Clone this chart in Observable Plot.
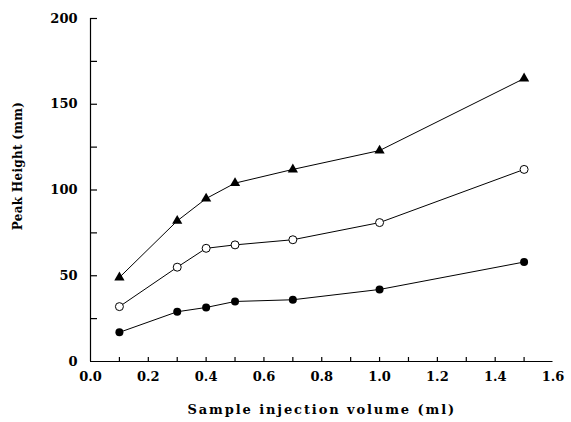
<!DOCTYPE html>
<html><head><meta charset="utf-8">
<script src="https://cdn.jsdelivr.net/npm/d3@7"></script>
<script src="https://cdn.jsdelivr.net/npm/@observablehq/plot@0.6"></script>
<style>body{margin:0;background:#fff}</style>
</head><body><div id="chart"></div>
<script>
const volumes = [0.1, 0.3, 0.4, 0.5, 0.7, 1.0, 1.5];
const triangleSeries = [49, 82, 95, 104, 112, 123, 165];
const openCircleSeries = [32, 55, 66, 68, 71, 81, 112];
const filledCircleSeries = [17, 29, 31.5, 35, 36, 42, 58];
const xTicks = [0.1, 0.2, 0.3, 0.4, 0.5, 0.6, 0.7, 0.8, 0.9, 1.0, 1.1, 1.2, 1.3, 1.4, 1.5];
const xTickLabels = [0, 0.2, 0.4, 0.6, 0.8, 1.0, 1.2, 1.4, 1.6];
const yTicks = [25, 50, 75, 100, 125, 150, 175, 200];
const yTickLabels = [0, 50, 100, 150, 200];
const xLabel = "Sample injection volume (ml)";
const yLabel = "Peak Height (mm)";

const rows = (ys) => volumes.map((v, i) => ({x: v, y: ys[i]}));
const tri = rows(triangleSeries), open = rows(openCircleSeries), filled = rows(filledCircleSeries);

const chart = Plot.plot({
  width: 571, height: 422,
  marginLeft: 90, marginRight: 18.5, marginTop: 18, marginBottom: 61,
  style: {fontFamily: "DejaVu Serif", fontSize: "13px", fontWeight: "bold", background: "#fff", color: "#000"},
  x: {domain: [0, 1.6]},
  y: {domain: [0, 200]},
  marks: [
    Plot.ruleX([0], {y1: 0, y2: 200, stroke: "#000", strokeWidth: 1.2}),
    Plot.ruleY([0], {x1: 0, x2: 1.6, stroke: "#000", strokeWidth: 1.2}),
    Plot.axisY(yTicks, {tickSize: 7, dx: 7, label: null, tickFormat: () => "", stroke: "#000", strokeWidth: 1.2}),
    Plot.axisX(xTicks, {tickSize: 4, dy: -4, label: null, tickFormat: () => "", stroke: "#000", strokeWidth: 1.2}),
    Plot.axisY(yTickLabels, {tickSize: 0, tickPadding: 13, label: null, tickFormat: d => String(d), fontSize: 13}),
    Plot.axisX(xTickLabels, {tickSize: 0, tickPadding: 10, label: null, tickFormat: d => d.toFixed(1), fontSize: 13}),
    Plot.line(tri, {x: "x", y: "y", stroke: "#000", strokeWidth: 1}),
    Plot.line(open, {x: "x", y: "y", stroke: "#000", strokeWidth: 1}),
    Plot.line(filled, {x: "x", y: "y", stroke: "#000", strokeWidth: 1}),
    Plot.dot(tri, {x: "x", y: "y", symbol: "triangle", r: 3.8, fill: "#000"}),
    Plot.dot(open, {x: "x", y: "y", symbol: "circle", r: 4, fill: "#fff", stroke: "#000", strokeWidth: 1}),
    Plot.dot(filled, {x: "x", y: "y", symbol: "circle", r: 4, fill: "#000"}),
    Plot.text([xLabel], {frameAnchor: "bottom", dy: 52, fontSize: 13, textAnchor: "middle"}),
    Plot.text([yLabel], {frameAnchor: "left", rotate: -90, dx: -72, dy: -24, fontSize: 12, textAnchor: "middle"})
  ]
});
chart.querySelectorAll("text").forEach(t => {
  if (t.textContent === xLabel) t.style.letterSpacing = "1.9px";
  if (t.textContent === yLabel) t.style.letterSpacing = "0.3px";
});
document.getElementById("chart").appendChild(chart);
</script>
</body></html>
